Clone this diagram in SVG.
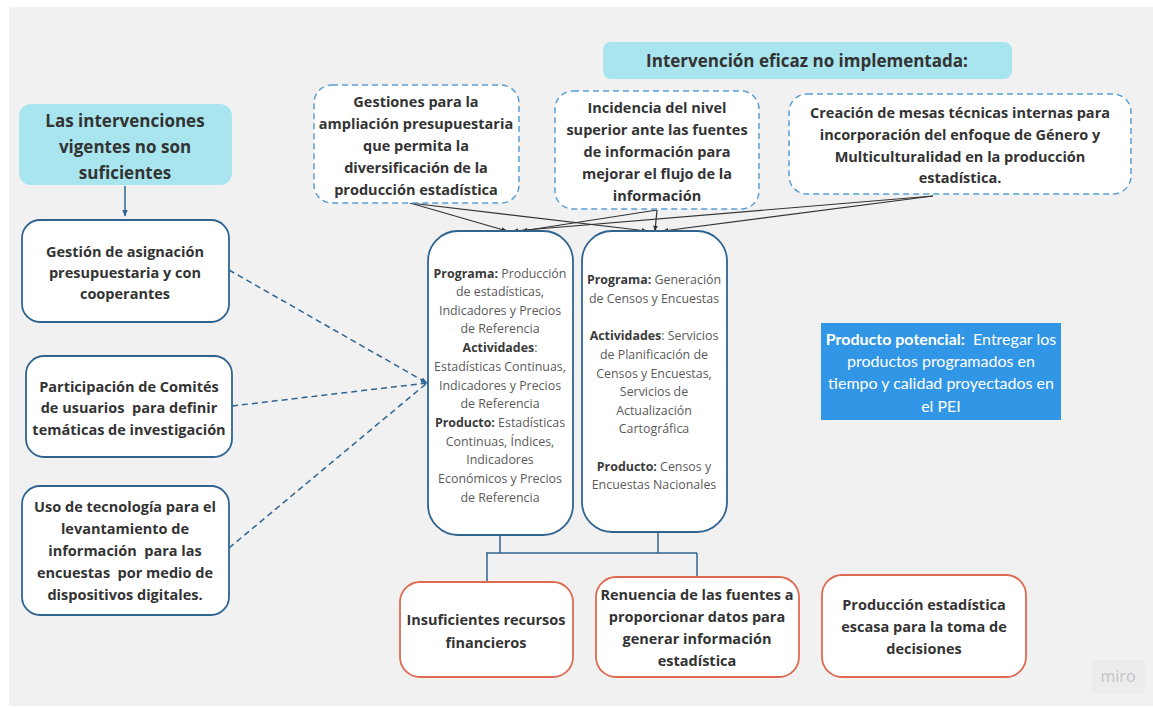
<svg xmlns="http://www.w3.org/2000/svg" width="1153" height="707" viewBox="0 0 1153 707">
<defs>
<style>
text{white-space:pre}
.bg{fill:#f1f1f1}
.teal{fill:#a9e5ef;stroke:none}
.blue{fill:#fff;stroke:#2f6490;stroke-width:1.8}
.dash{fill:#fff;stroke:#5b9fd3;stroke-width:1.5;stroke-dasharray:6 4}
.red{fill:#fff;stroke:#de6a52;stroke-width:1.8}
.pot{fill:#3196e6}
.t{font-family:"Open Sans","DejaVu Sans",sans-serif;font-weight:bold;fill:#333;text-anchor:middle}
.h{font-size:17px}
.n{font-size:14.5px}
.p{font-family:"Open Sans","DejaVu Sans",sans-serif;font-size:12.4px;fill:#5a5a5a;text-anchor:middle}
.p .b{font-weight:bold;fill:#3a3a3a}
.w{font-family:Lato,"Open Sans",sans-serif;font-size:16px;fill:#fff;text-anchor:middle}
.bl{fill:none;stroke:#2f6490;stroke-width:1.5}
.bd{fill:none;stroke:#2f6490;stroke-width:1.5;stroke-dasharray:6 4}
.dk{fill:none;stroke:#333;stroke-width:1.2}
</style>
<marker id="ah" viewBox="0 0 10 10" refX="9" refY="5" markerWidth="6" markerHeight="6" orient="auto" markerUnits="userSpaceOnUse"><path d="M0,1 L10,5 L0,9 z" fill="#333"/></marker>
<marker id="ab" viewBox="0 0 10 10" refX="9" refY="5" markerWidth="7" markerHeight="7" orient="auto" markerUnits="userSpaceOnUse"><path d="M0,1 L10,5 L0,9 z" fill="#2f6490"/></marker>
</defs>
<rect x="0" y="0" width="1153" height="707" fill="#fff"/>
<rect class="bg" x="9" y="7" width="1144" height="699"/>

<g id="connectors">
<path class="bl" d="M125,186 V216" marker-end="url(#ab)"/>
<path class="bd" d="M229,270 L427,383" marker-end="url(#ab)"/>
<path class="bd" d="M232,406 L427,383"/>
<path class="bd" d="M229,548 L427,383"/>
<path class="dk" d="M410,203 L507,231" marker-end="url(#ah)"/>
<path class="dk" d="M410,203 L647,231" marker-end="url(#ah)"/>
<path class="dk" d="M657,210 L522,231" marker-end="url(#ah)"/>
<path class="dk" d="M657,210 L655,231" marker-end="url(#ah)"/>
<path class="dk" d="M933,196 L513,231" marker-end="url(#ah)"/>
<path class="dk" d="M933,196 L663,231" marker-end="url(#ah)"/>
<path class="bl" d="M500,535 V553 M658,532 V553 M486,553 H697 M487,553 V582 M697,553 V576"/>
</g>

<g id="n-vigentes">
<rect class="teal" x="19" y="104" width="213" height="81" rx="12"/>
<text class="t h" x="125"><tspan x="125" y="127">Las intervenciones</tspan><tspan x="125" y="153">vigentes no son</tspan><tspan x="125" y="179">suficientes</tspan></text>
</g>
<g id="n-gestion">
<rect class="blue" x="22" y="220" width="207" height="102" rx="18"/>
<text class="t n"><tspan x="125" y="257">Gestión de asignación</tspan><tspan x="125" y="278">presupuestaria y con</tspan><tspan x="125" y="299">cooperantes</tspan></text>
</g>
<g id="n-comites">
<rect class="blue" x="26" y="356" width="206" height="101" rx="18"/>
<text class="t n"><tspan x="129" y="392">Participación de Comités</tspan><tspan x="129" y="413">de usuarios  para definir</tspan><tspan x="129" y="435">temáticas de investigación</tspan></text>
</g>
<g id="n-tecnologia">
<rect class="blue" x="22" y="486" width="207" height="129" rx="18"/>
<text class="t n"><tspan x="125" y="512">Uso de tecnología para el</tspan><tspan x="125" y="534">levantamiento de</tspan><tspan x="125" y="556">información  para las</tspan><tspan x="125" y="578">encuestas  por medio de</tspan><tspan x="125" y="600">dispositivos digitales.</tspan></text>
</g>

<g id="n-eficaz">
<rect class="teal" x="603" y="42" width="409" height="37" rx="8"/>
<text class="t h" x="807" y="67">Intervención eficaz no implementada:</text>
</g>
<g id="n-gestiones">
<rect class="dash" x="314" y="85" width="205" height="118" rx="18"/>
<text class="t n"><tspan x="416" y="107">Gestiones para la</tspan><tspan x="416" y="129">ampliación presupuestaria</tspan><tspan x="416" y="151">que permita la</tspan><tspan x="416" y="173">diversificación de la</tspan><tspan x="416" y="195">producción estadística</tspan></text>
</g>
<g id="n-incidencia">
<rect class="dash" x="555" y="91" width="204" height="118" rx="18"/>
<text class="t n"><tspan x="657" y="113">Incidencia del nivel</tspan><tspan x="657" y="135">superior ante las fuentes</tspan><tspan x="657" y="157">de información para</tspan><tspan x="657" y="179">mejorar el flujo de la</tspan><tspan x="657" y="201">información</tspan></text>
</g>
<g id="n-mesas">
<rect class="dash" x="789" y="94" width="342" height="100" rx="18"/>
<text class="t n"><tspan x="960" y="118">Creación de mesas técnicas internas para</tspan><tspan x="960" y="140">incorporación del enfoque de Género y</tspan><tspan x="960" y="162">Multiculturalidad en la producción</tspan><tspan x="960" y="183">estadística.</tspan></text>
</g>

<g id="n-prog1">
<rect class="blue" x="428" y="231" width="145" height="304" rx="30"/>
<text class="p"><tspan x="500" y="278"><tspan class="b">Programa:</tspan> Producción</tspan><tspan x="500" y="296">de estadísticas,</tspan><tspan x="500" y="315">Indicadores y Precios</tspan><tspan x="500" y="333">de Referencia</tspan><tspan x="500" y="352"><tspan class="b">Actividades</tspan>:</tspan><tspan x="500" y="371">Estadísticas Continuas,</tspan><tspan x="500" y="390">Indicadores y Precios</tspan><tspan x="500" y="408">de Referencia</tspan><tspan x="500" y="427"><tspan class="b">Producto:</tspan> Estadísticas</tspan><tspan x="500" y="446">Continuas, Índices,</tspan><tspan x="500" y="464">Indicadores</tspan><tspan x="500" y="483">Económicos y Precios</tspan><tspan x="500" y="502">de Referencia</tspan></text>
</g>
<g id="n-prog2">
<rect class="blue" x="582" y="231" width="145" height="301" rx="30"/>
<text class="p"><tspan x="654" y="284"><tspan class="b">Programa:</tspan> Generación</tspan><tspan x="654" y="303">de Censos y Encuestas</tspan><tspan x="654" y="340"><tspan class="b">Actividades</tspan>: Servicios</tspan><tspan x="654" y="359">de Planificación de</tspan><tspan x="654" y="378">Censos y Encuestas,</tspan><tspan x="654" y="396">Servicios de</tspan><tspan x="654" y="415">Actualización</tspan><tspan x="654" y="433">Cartográfica</tspan><tspan x="654" y="471"><tspan class="b">Producto:</tspan> Censos y</tspan><tspan x="654" y="489">Encuestas Nacionales</tspan></text>
</g>

<g id="n-potencial">
<rect class="pot" x="821" y="323" width="240" height="97"/>
<text class="w"><tspan x="941" y="345"><tspan font-weight="bold">Producto potencial:</tspan>  Entregar los</tspan><tspan x="941" y="367">productos programados en</tspan><tspan x="941" y="389">tiempo y calidad proyectados en</tspan><tspan x="941" y="412">el PEI</tspan></text>
</g>

<g id="n-recursos">
<rect class="red" x="400" y="582" width="173" height="95" rx="20"/>
<text class="t n"><tspan x="486" y="625">Insuficientes recursos</tspan><tspan x="486" y="648">financieros</tspan></text>
</g>
<g id="n-renuencia">
<rect class="red" x="596" y="577" width="203" height="100" rx="20"/>
<text class="t n"><tspan x="697" y="600">Renuencia de las fuentes a</tspan><tspan x="697" y="622">proporcionar datos para</tspan><tspan x="697" y="644">generar información</tspan><tspan x="697" y="666">estadística</tspan></text>
</g>
<g id="n-escasa">
<rect class="red" x="822" y="575" width="204" height="102" rx="20"/>
<text class="t n"><tspan x="924" y="610">Producción estadística</tspan><tspan x="924" y="632">escasa para la toma de</tspan><tspan x="924" y="654">decisiones</tspan></text>
</g>

<g id="watermark">
<rect x="1092" y="660" width="53" height="33" fill="#ececec"/>
<text x="1118" y="682" font-family="'Open Sans',sans-serif" font-size="16" fill="#c4c4c8" text-anchor="middle">miro</text>
</g>
</svg>
